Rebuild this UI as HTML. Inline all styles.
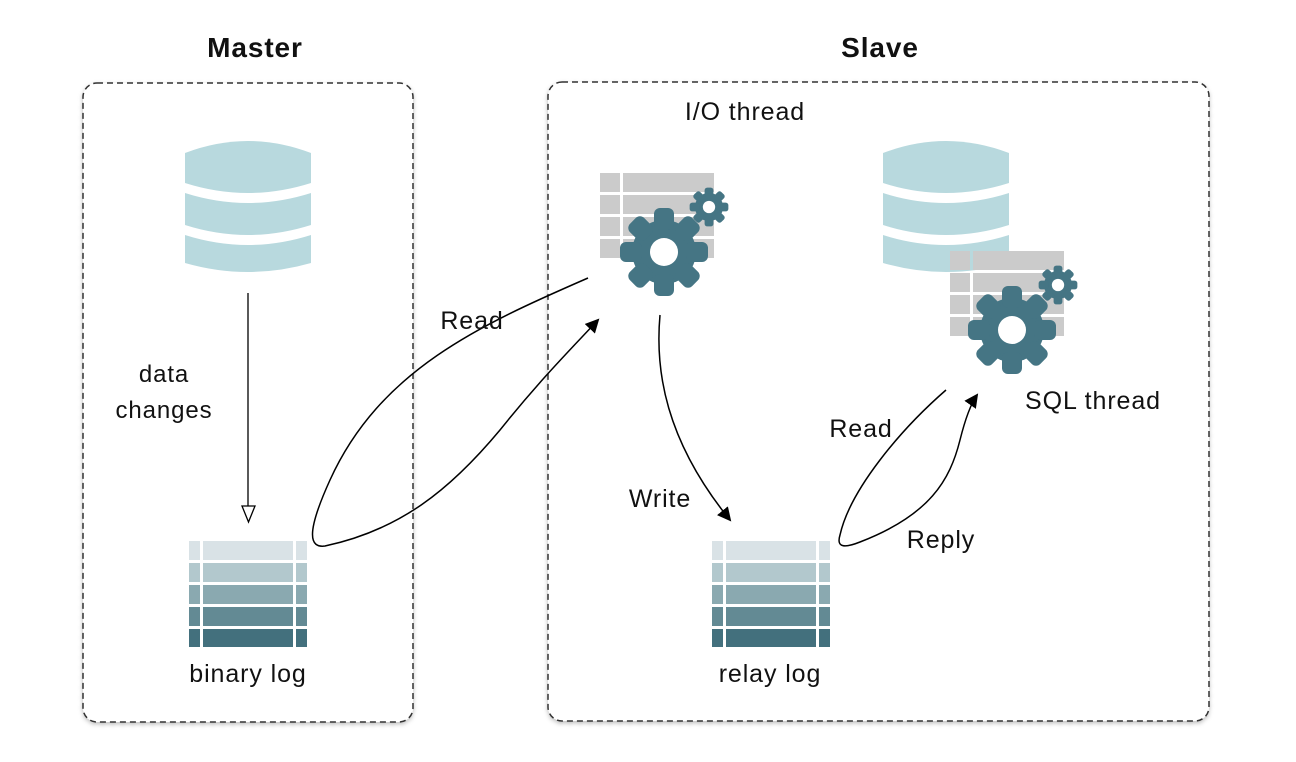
<!DOCTYPE html>
<html><head><meta charset="utf-8"><style>
html,body{margin:0;padding:0;background:#fff}
svg{display:block}
text{font-family:"Liberation Sans",sans-serif;fill:#111;letter-spacing:0.9px}
</style></head><body>
<svg width="1296" height="762" viewBox="0 0 1296 762" xmlns="http://www.w3.org/2000/svg">
<defs>
<filter id="sh" x="-5%" y="-5%" width="110%" height="110%"><feDropShadow dx="0" dy="2" stdDeviation="2" flood-color="#000" flood-opacity="0.25"/></filter>
<marker id="ah" markerWidth="14" markerHeight="14" refX="12" refY="7" orient="auto" markerUnits="userSpaceOnUse"><path d="M0,0 L14,7 L0,14 z" fill="#000"/></marker>
<g id="gear">
  <circle r="32" fill="#457584"/>
  <g fill="#457584">
   <rect x="-10" y="-44" width="20" height="22" rx="6"/>
   <rect x="-10" y="-44" width="20" height="22" rx="6" transform="rotate(45)"/>
   <rect x="-10" y="-44" width="20" height="22" rx="6" transform="rotate(90)"/>
   <rect x="-10" y="-44" width="20" height="22" rx="6" transform="rotate(135)"/>
   <rect x="-10" y="-44" width="20" height="22" rx="6" transform="rotate(180)"/>
   <rect x="-10" y="-44" width="20" height="22" rx="6" transform="rotate(225)"/>
   <rect x="-10" y="-44" width="20" height="22" rx="6" transform="rotate(270)"/>
   <rect x="-10" y="-44" width="20" height="22" rx="6" transform="rotate(315)"/>
  </g>
  <circle r="14" fill="#fff"/>
</g>
<g id="tbl" fill="#cbcbcb">
  <rect x="0" y="0" width="20" height="19"/><rect x="23" y="0" width="91" height="19"/>
  <rect x="0" y="22" width="20" height="19"/><rect x="23" y="22" width="91" height="19"/>
  <rect x="0" y="44" width="20" height="19"/><rect x="23" y="44" width="91" height="19"/>
  <rect x="0" y="66" width="20" height="19"/><rect x="23" y="66" width="91" height="19"/>
</g>
<g id="db" fill="#b8d9de">
  <path d="M0,12 Q63,-12 126,12 L126,42 Q63,62 0,42 Z"/>
  <path d="M0,52 Q63,72 126,52 L126,84 Q63,104 0,84 Z"/>
  <path d="M0,94 Q63,114 126,94 L126,122 Q63,140 0,122 Z"/>
</g>
<g id="log">
  <g fill="#d9e2e6"><rect x="0" y="0" width="11" height="19"/><rect x="14" y="0" width="90" height="19"/><rect x="107" y="0" width="11" height="19"/></g>
  <g fill="#b2c8cd"><rect x="0" y="22" width="11" height="19"/><rect x="14" y="22" width="90" height="19"/><rect x="107" y="22" width="11" height="19"/></g>
  <g fill="#8aa9b0"><rect x="0" y="44" width="11" height="19"/><rect x="14" y="44" width="90" height="19"/><rect x="107" y="44" width="11" height="19"/></g>
  <g fill="#638a94"><rect x="0" y="66" width="11" height="19"/><rect x="14" y="66" width="90" height="19"/><rect x="107" y="66" width="11" height="19"/></g>
  <g fill="#43707d"><rect x="0" y="88" width="11" height="18"/><rect x="14" y="88" width="90" height="18"/><rect x="107" y="88" width="11" height="18"/></g>
</g>
</defs>

<rect x="83" y="83" width="330" height="639" rx="14" fill="#fff" stroke="#333" stroke-width="1.5" stroke-dasharray="6,4" filter="url(#sh)"/>
<rect x="548" y="82" width="661" height="639" rx="14" fill="#fff" stroke="#333" stroke-width="1.5" stroke-dasharray="6,4" filter="url(#sh)"/>

<text x="255" y="57" font-size="28" font-weight="bold" text-anchor="middle">Master</text>
<text x="880" y="57" font-size="28" font-weight="bold" text-anchor="middle">Slave</text>

<use href="#db" x="185" y="141"/>
<use href="#db" x="883" y="141"/>

<line x1="248" y1="293" x2="248" y2="506" stroke="#000" stroke-width="1.3"/>
<path d="M242,506 L255,506 L248.5,522 Z" fill="#fff" stroke="#000" stroke-width="1.3"/>
<text x="164" y="382" font-size="24" text-anchor="middle">data</text>
<text x="164" y="418" font-size="24" text-anchor="middle">changes</text>

<use href="#log" x="189" y="541"/>
<use href="#log" x="712" y="541"/>
<text x="248" y="682" font-size="25" text-anchor="middle">binary log</text>
<text x="770" y="682" font-size="25" text-anchor="middle">relay log</text>

<use href="#tbl" x="600" y="173"/>
<use href="#gear" transform="translate(664,252)"/>
<use href="#gear" transform="translate(709,207) scale(0.44)"/>
<text x="745" y="120" font-size="25" text-anchor="middle">I/O thread</text>

<use href="#tbl" x="950" y="251"/>
<use href="#gear" transform="translate(1012,330)"/>
<use href="#gear" transform="translate(1058,285) scale(0.44)"/>
<text x="1093" y="409" font-size="25" text-anchor="middle">SQL thread</text>

<path d="M588,278 C480,325 380,370 330,480 C305,535 310,548 325,546 C400,530 450,490 500,430 C540,380 570,350 598,320" fill="none" stroke="#000" stroke-width="1.5" marker-end="url(#ah)"/>
<text x="472" y="329" font-size="25" text-anchor="middle">Read</text>

<path d="M660,315 C655,370 665,440 730,520" fill="none" stroke="#000" stroke-width="1.5" marker-end="url(#ah)"/>
<text x="660" y="507" font-size="25" text-anchor="middle">Write</text>

<path d="M946,390 C900,430 850,490 840,535 C836,548 845,548 860,542 C930,515 950,480 960,440 C965,420 970,405 977,395" fill="none" stroke="#000" stroke-width="1.5" marker-end="url(#ah)"/>
<text x="861" y="437" font-size="25" text-anchor="middle">Read</text>
<text x="941" y="548" font-size="25" text-anchor="middle">Reply</text>
</svg>
</body></html>
